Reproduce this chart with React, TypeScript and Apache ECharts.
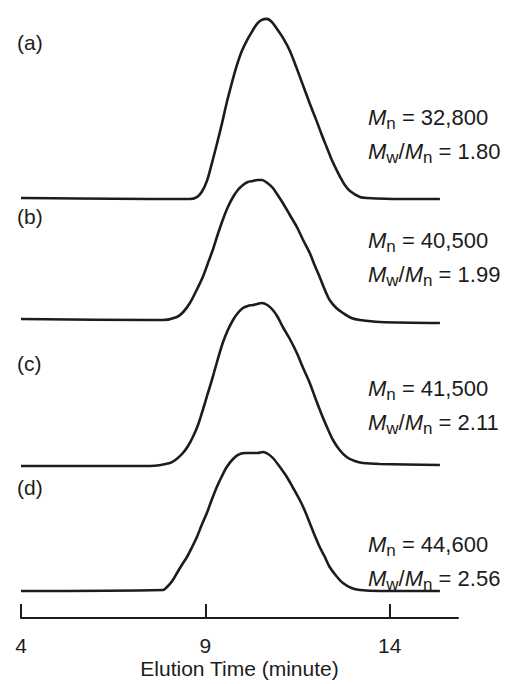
import React, { useEffect, useRef } from "react";
import * as echarts from "echarts";

// Elution time (minute) and detector response (a.u.) for each sample
const timeA = [4.0, 5.52, 7.5, 8.58, 8.77, 8.9, 9.04, 9.17, 9.31, 9.45, 9.58, 9.72, 9.85, 9.98, 10.12, 10.26, 10.4, 10.53, 10.67, 10.8, 10.94, 11.12, 11.29, 11.46, 11.64, 11.83, 12.02, 12.15, 12.29, 12.42, 12.56, 12.67, 12.78, 12.92, 13.19, 13.38, 14.27, 15.36];
const signalA = [1, 0.5, 0, 0, 2, 7, 18, 35, 55, 76, 97, 117, 134, 148, 159, 168, 176, 180, 181, 178, 171, 161, 149, 133, 115, 96, 78, 65, 52, 40, 29, 21, 14, 8, 2, 1, 0, 0];

const timeB = [4.0, 7.5, 7.85, 8.23, 8.4, 8.58, 8.75, 8.93, 9.06, 9.2, 9.33, 9.47, 9.61, 9.75, 9.88, 10.02, 10.15, 10.29, 10.41, 10.53, 10.68, 10.83, 10.96, 11.1, 11.29, 11.48, 11.65, 11.83, 11.96, 12.1, 12.23, 12.37, 12.55, 12.73, 12.96, 13.19, 13.73, 15.36];
const signalB = [1, 0, 0, 3, 8, 17, 29, 43, 56, 70, 85, 100, 113, 123, 130, 135, 138, 139, 140, 140, 137, 132, 125, 117, 105, 93, 80, 67, 55, 43, 31, 20, 12, 7, 2, 0, -2, -3];

const timeC = [4.0, 7.5, 8.04, 8.22, 8.39, 8.53, 8.66, 8.8, 8.93, 9.06, 9.2, 9.33, 9.47, 9.61, 9.75, 9.88, 10.02, 10.15, 10.29, 10.41, 10.53, 10.68, 10.83, 10.96, 11.1, 11.29, 11.48, 11.65, 11.83, 12.0, 12.18, 12.32, 12.46, 12.64, 12.83, 13.05, 13.27, 13.73, 15.36];
const signalC = [0, 0, 3, 7, 13, 20, 29, 41, 56, 72, 89, 106, 123, 136, 146, 153, 158, 160, 161, 162, 163, 161, 156, 149, 139, 127, 113, 98, 83, 66, 49, 37, 26, 16, 9, 5, 3, 2, 1];

const timeD = [4.0, 7.85, 7.96, 8.1, 8.23, 8.36, 8.5, 8.64, 8.77, 8.9, 9.04, 9.17, 9.31, 9.45, 9.58, 9.75, 9.93, 10.11, 10.29, 10.42, 10.56, 10.7, 10.83, 11.02, 11.21, 11.38, 11.56, 11.7, 11.83, 11.96, 12.1, 12.24, 12.37, 12.55, 12.73, 12.96, 13.19, 13.73, 15.36];
const signalD = [0, 1, 4, 10, 18, 26, 34, 44, 54, 66, 78, 91, 104, 115, 124, 132, 137, 138, 138, 138, 139, 137, 133, 124, 114, 103, 91, 80, 68, 56, 44, 34, 24, 15, 8, 3, 1, 0, 0];

const sampleLabels = ["(a)", "(b)", "(c)", "(d)"];
const mnValues = ["32,800", "40,500", "41,500", "44,600"];
const pdiValues = ["1.80", "1.99", "2.11", "2.56"];

const xMin = 4;
const xMax = 15.85;
const xInterval = 5;
const axisTitle = "Elution Time (minute)";

const times = [timeA, timeB, timeC, timeD];
const signals = [signalA, signalB, signalC, signalD];

export default function App() {
  const ref = useRef<HTMLDivElement>(null);

  useEffect(() => {
    if (!ref.current) return;
    const chart = echarts.init(ref.current, null, { renderer: "svg" });
    const font = "Liberation Sans, Arial, Helvetica, sans-serif";
    const ink = "#1c1c1c";

    // layout: baseline pixel of each trace
    const baselines = [199, 320, 466, 591];
    const gridH = 200;
    const axisY = 618;
    const n = baselines.length;

    const grids = baselines.map((b, i) => {
      const last = i === n - 1;
      return {
        left: 21,
        right: 505 - 458,
        top: b - gridH,
        height: last ? axisY - (b - gridH) : gridH,
        containLabel: false,
      };
    });

    const xAxes = baselines.map((_, i) => {
      const last = i === n - 1;
      return {
        type: "value",
        gridIndex: i,
        min: xMin,
        max: xMax,
        interval: xInterval,
        show: last,
        axisLine: { show: true, onZero: false, lineStyle: { color: ink, width: 2 } },
        axisTick: { show: true, inside: true, length: 14, lineStyle: { color: ink, width: 2 } },
        axisLabel: {
          show: true,
          margin: 17,
          fontSize: 21,
          color: ink,
          fontFamily: font,
          showMaxLabel: false,
        },
        splitLine: { show: false },
        name: last ? axisTitle : "",
        nameLocation: "middle",
        nameGap: 40,
        nameTextStyle: { fontSize: 21, color: ink, fontFamily: font },
      };
    });

    const yAxes = baselines.map((b, i) => ({
      type: "value",
      gridIndex: i,
      min: i === n - 1 ? -(axisY - b) : 0,
      max: gridH,
      show: false,
    }));

    const series = signals.map((s, i) => ({
      type: "line",
      xAxisIndex: i,
      yAxisIndex: i,
      data: s.map((v, j) => [times[i][j], v]),
      showSymbol: false,
      smooth: 0.3,
      lineStyle: { color: ink, width: 2.6 },
      clip: false,
    }));

    const labelY = [42, 216, 363, 487];
    const textY = [117, 240, 388, 544];
    const lineGap = 34;
    const rich = {
      i: { fontSize: 22, fontStyle: "italic", fontFamily: font, fill: ink, lineHeight: 28, verticalAlign: "middle" },
      r: { fontSize: 22, fontFamily: font, fill: ink, lineHeight: 28, verticalAlign: "middle" },
      s: { fontSize: 17, fontFamily: font, fill: ink, lineHeight: 16, padding: [12, 0, 0, 0], verticalAlign: "middle" },
    };

    const graphics: any[] = [];
    sampleLabels.forEach((lab, i) => {
      graphics.push({
        type: "text",
        x: 17,
        y: labelY[i],
        style: { text: lab, fontSize: 21, fontFamily: font, fill: ink, verticalAlign: "middle", align: "left" },
      });
      graphics.push({
        type: "text",
        x: 368,
        y: textY[i],
        style: {
          text: `{i|M}{s|n}{r| = ${mnValues[i]}}`,
          rich,
          verticalAlign: "middle",
          align: "left",
        },
      });
      graphics.push({
        type: "text",
        x: 368,
        y: textY[i] + lineGap,
        style: {
          text: `{i|M}{s|w}{r|/}{i|M}{s|n}{r| = ${pdiValues[i]}}`,
          rich,
          verticalAlign: "middle",
          align: "left",
        },
      });
    });

    chart.setOption({
      animation: false,
      backgroundColor: "#ffffff",
      grid: grids,
      xAxis: xAxes,
      yAxis: yAxes,
      series,
      graphic: graphics,
    });

    return () => chart.dispose();
  }, []);

  return (
    <div
      ref={ref}
      style={{ position: "absolute", left: 0, top: 0, width: 505, height: 684 }}
    />
  );
}
